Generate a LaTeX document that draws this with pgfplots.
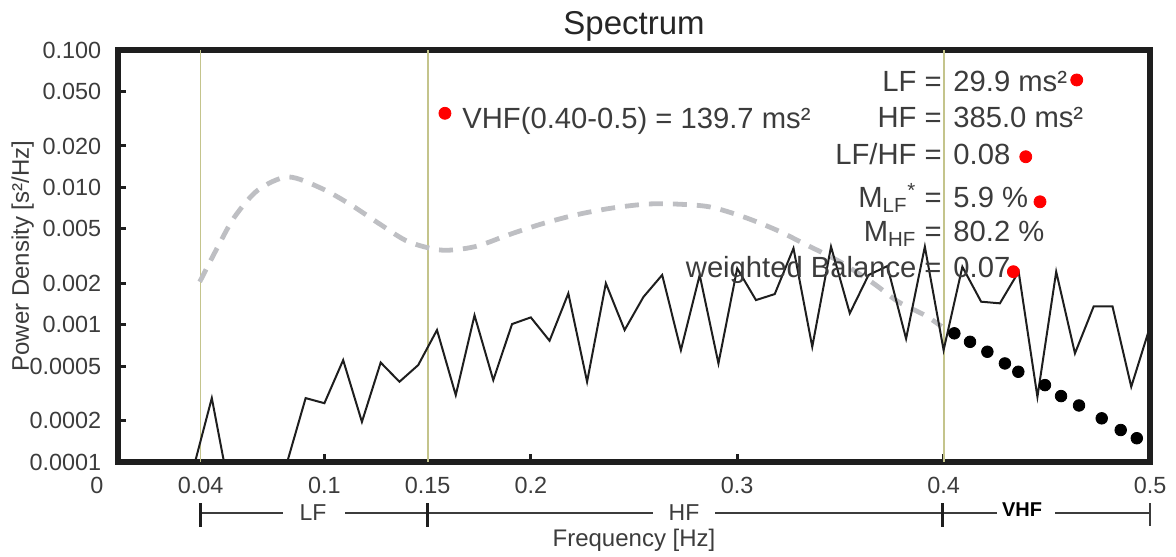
\documentclass[border=0pt]{standalone}
\usepackage{pgfplots}
\pgfplotsset{compat=1.18}
\usepackage{fontspec}
\setmainfont{Liberation Sans}
\definecolor{txt}{RGB}{60,60,60}
\definecolor{ttl}{RGB}{38,38,38}
\definecolor{axc}{RGB}{30,30,30}
\definecolor{olv}{RGB}{196,196,140}
\definecolor{dgr}{RGB}{190,191,195}
\definecolor{spec}{RGB}{30,30,30}
\begin{document}
\begin{tikzpicture}
\begin{axis}[
  at={(0,0)}, anchor=south west,
  scale only axis, width=516pt, height=206pt,
  xmin=0, xmax=0.5, ymin=1e-4, ymax=0.1, ymode=log,
  axis line style={line width=3pt, color=axc},
  tick align=inside,
  major tick length=4.2pt,
  every tick/.style={line width=1.5pt, color=axc},
  xtick pos=lower, ytick pos=left,
  xminorticks=false, yminorticks=false,
  xtick={0.1,0.2,0.3,0.4,0.5},
  xticklabels={0.1,0.2,0.3,0.4,0.5},
  extra x ticks={0,0.04,0.15},
  extra x tick labels={\makebox[0pt]{\hspace*{-21pt}0},0.04,0.15},
  extra x tick style={major tick length=0pt},
  ytick={1e-4,2e-4,5e-4,1e-3,2e-3,5e-3,1e-2,2e-2,5e-2,1e-1},
  yticklabels={0.0001,0.0002,0.0005,0.001,0.002,0.005,0.010,0.020,0.050,0.100},
  tick label style={font=\fontsize{11.7}{14}\selectfont, text=txt},
  yticklabel style={anchor=east, inner sep=0pt, xshift=-8.2pt},
  xticklabel style={anchor=north, inner sep=0pt, yshift=-7.5pt},
]
% band boundaries
\addplot[olv, line width=0.9pt] coordinates {(0.04,1e-4) (0.04,0.1)};
\addplot[olv, line width=0.9pt] coordinates {(0.15,1e-4) (0.15,0.1)};
\addplot[olv, line width=0.9pt] coordinates {(0.4,1e-4) (0.4,0.1)};
% fitted (dashed) spectrum
\addplot[dgr, line width=2.4pt, dash pattern=on 7pt off 5pt, smooth, tension=0.5] coordinates {
(0.0396,2.05e-3) (0.0484,3.7e-3) (0.0565,6.1e-3) (0.0678,9.55e-3) (0.0824,1.19e-2)
(0.0985,9.84e-3) (0.113,7.43e-3) (0.1276,5.31e-3) (0.1407,4.02e-3) (0.1568,3.49e-3)
(0.173,3.7e-3) (0.189,4.5e-3) (0.205,5.4e-3) (0.2214,6.28e-3) (0.2384,7.03e-3)
(0.2561,7.55e-3) (0.2707,7.55e-3) (0.2868,7.2e-3) (0.303,6.1e-3) (0.319,4.89e-3)
(0.3337,3.8e-3) (0.3498,2.87e-3) (0.366,2.0e-3) (0.378,1.47e-3) (0.391,1.17e-3) (0.399,9.7e-4)};
% raw spectrum
\addplot[spec, line width=1pt] coordinates {
(0,2e-5) (0.00909,3e-5) (0.01818,2.5e-5) (0.02727,4e-5) (0.03636,8.8e-5)
(0.04545,2.92e-4) (0.05455,5.6e-5) (0.06364,3e-5) (0.07273,4e-5) (0.08182,9.8e-5)
(0.09091,2.92e-4) (0.1,2.68e-4) (0.10909,5.52e-4) (0.11818,1.96e-4) (0.12727,5.3e-4)
(0.13636,3.84e-4) (0.14545,5.08e-4) (0.15455,9.14e-4) (0.16364,3.07e-4) (0.17273,1.17e-3)
(0.18182,3.95e-4) (0.19091,1.01e-3) (0.2,1.13e-3) (0.20909,7.64e-4) (0.21818,1.69e-3)
(0.22727,3.84e-4) (0.23636,2.0e-3) (0.24545,9.14e-4) (0.25455,1.59e-3) (0.26364,2.30e-3)
(0.27273,6.53e-4) (0.28182,2.30e-3) (0.29091,5.22e-4) (0.3,2.57e-3) (0.30909,1.51e-3)
(0.31818,1.67e-3) (0.32727,3.60e-3) (0.33636,6.9e-4) (0.34545,3.70e-3) (0.35455,1.21e-3)
(0.36364,2.30e-3) (0.37273,2.67e-3) (0.38182,7.9e-4) (0.39091,3.70e-3) (0.4,6.53e-4)
(0.40909,2.64e-3) (0.41818,1.47e-3) (0.42727,1.43e-3) (0.43636,2.43e-3) (0.44545,2.98e-4)
(0.45455,2.43e-3) (0.46364,6.18e-4) (0.47273,1.36e-3) (0.48182,1.36e-3) (0.49091,3.53e-4)
(0.5,9.66e-4)};
% VHF dots
\addplot[only marks, mark=*, mark size=2.9pt, black] coordinates {
(0.4052,8.65e-4) (0.4128,7.5e-4) (0.4212,6.35e-4) (0.4297,5.22e-4) (0.4362,4.54e-4)
(0.4491,3.63e-4) (0.4569,3.02e-4) (0.4656,2.58e-4) (0.4766,2.08e-4) (0.4858,1.71e-4) (0.4936,1.49e-4)};
% red markers
\addplot[only marks, mark=*, mark size=3pt, red, clip mode=individual] coordinates {
(0.1584,0.0346) (0.4645,0.0605) (0.4398,0.0167) (0.4467,0.00785) (0.4338,0.00243)};
\end{axis}
% annotations
\begin{scope}[every node/.style={text=txt, inner sep=0pt, font=\fontsize{14.6}{17}\selectfont}]
\node[anchor=base west] at (172pt,166.8pt) {VHF(0.40-0.5) = 139.7 ms²};
\node[anchor=base east] at (412pt,185.2pt) {LF =};
\node[anchor=base west] at (417.5pt,185.2pt) {29.9 ms²};
\node[anchor=base east] at (412pt,167pt) {HF =};
\node[anchor=base west] at (417.5pt,167pt) {385.0 ms²};
\node[anchor=base east] at (412pt,148.5pt) {LF/HF =};
\node[anchor=base west] at (417.5pt,148.5pt) {0.08};
\node[anchor=base east] at (412pt,127pt) {M\textsubscript{LF}\textsuperscript{*} =};
\node[anchor=base west] at (417.5pt,127pt) {5.9 \%};
\node[anchor=base east] at (412pt,110pt) {M\textsubscript{HF} =};
\node[anchor=base west] at (417.5pt,110pt) {80.2 \%};
\node[anchor=base east] at (412pt,92pt) {weighted Balance =};
\node[anchor=base west] at (417.5pt,92pt) {0.07};
\end{scope}
% title and axis labels
\node[anchor=base, text=ttl, inner sep=0pt, font=\fontsize{16.5}{19}\selectfont] at (258pt,213.5pt) {Spectrum};
\node[anchor=base, text=txt, inner sep=0pt, font=\fontsize{12}{14}\selectfont] at (258pt,-42.3pt) {Frequency [Hz]};
\node[anchor=base, rotate=90, text=txt, inner sep=0pt, font=\fontsize{12}{14}\selectfont] at (-44.5pt,103pt) {Power Density [s²/Hz]};
% frequency bands
\begin{scope}[txt]
\draw[line width=0.65pt] (41pt,-25.5pt) -- (82.5pt,-25.5pt) (113.5pt,-25.5pt) -- (154.5pt,-25.5pt);
\draw[line width=0.65pt] (154.5pt,-25.5pt) -- (267.5pt,-25.5pt) (298.5pt,-25.5pt) -- (412pt,-25.5pt);
\draw[line width=0.65pt] (412pt,-25.5pt) -- (439.5pt,-25.5pt) (468.5pt,-25.5pt) -- (516pt,-25.5pt);
\draw[line width=1.5pt, axc] (41pt,-20.5pt) -- (41pt,-32.5pt) (154.5pt,-20.5pt) -- (154.5pt,-32.5pt) (412pt,-20.5pt) -- (412pt,-32.5pt);
\draw[line width=0.8pt] (516pt,-20.5pt) -- (516pt,-32pt);
\node[anchor=base, inner sep=0pt, font=\fontsize{11.5}{14}\selectfont] at (97.5pt,-29pt) {LF};
\node[anchor=base, inner sep=0pt, font=\fontsize{11.5}{14}\selectfont] at (283pt,-29pt) {HF};
\node[anchor=base, inner sep=0pt, text=black, font=\bfseries\fontsize{10}{12}\selectfont] at (452pt,-27.3pt) {VHF};
\end{scope}
\pgfresetboundingbox
\path (-59pt,-47pt) rectangle (529pt,231pt);
\end{tikzpicture}
\end{document}
